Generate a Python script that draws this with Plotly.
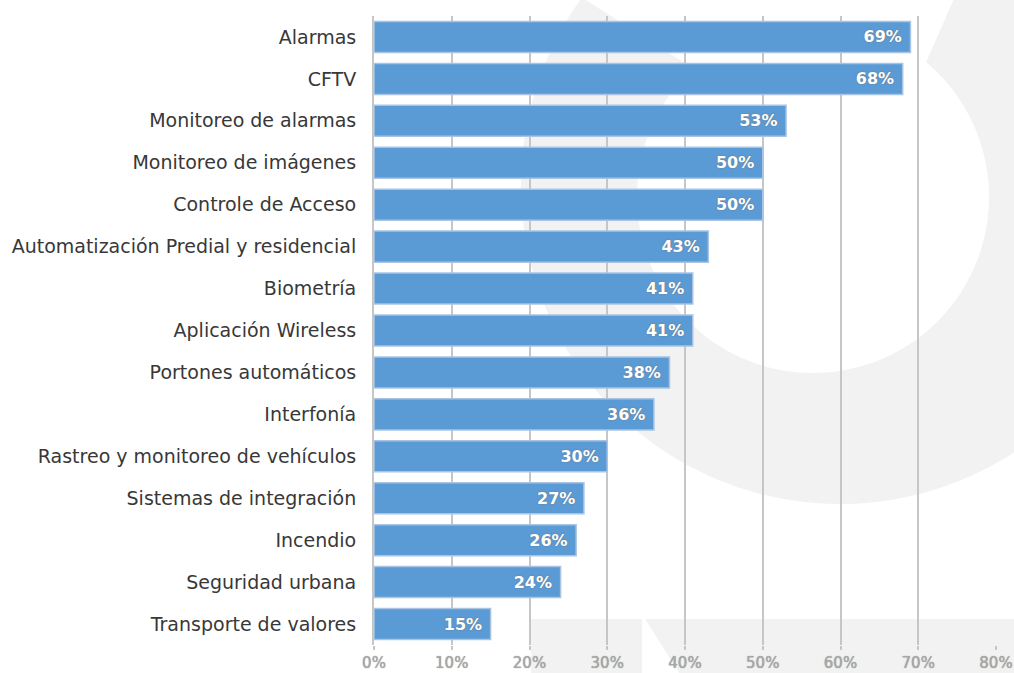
import numpy as np
import plotly.graph_objects as go

categories = [
    "Alarmas", "CFTV", "Monitoreo de alarmas", "Monitoreo de imágenes",
    "Controle de Acceso", "Automatización Predial y residencial", "Biometría",
    "Aplicación Wireless", "Portones automáticos", "Interfonía",
    "Rastreo y monitoreo de vehículos", "Sistemas de integración", "Incendio",
    "Seguridad urbana", "Transporte de valores",
]
values = [69, 68, 53, 50, 50, 43, 41, 41, 38, 36, 30, 27, 26, 24, 15]
tick_vals = [0, 10, 20, 30, 40, 50, 60, 70, 80]
tick_text = ["0%", "10%", "20%", "30%", "40%", "50%", "60%", "70%", "80%"]

W, H = 1014, 673
L, R, T, B = 374, 18, 16, 28
pw, ph = W - L - R, H - T - B


def px2paper(x, y):
    return (x - L) / pw, (H - B - y) / ph


def poly_path(pts):
    s = ""
    for i, (x, y) in enumerate(pts):
        a, b = px2paper(x, y)
        s += ("M" if i == 0 else "L") + f"{a:.4f},{b:.4f} "
    return s + "Z"


# faint background watermark (decoration only)
ocx, ocy, r_out = 840, 185, 319
icx, icy, r_in = 813, 197, 176
th_o = np.radians(np.linspace(-61, 216, 140))
th_i = np.radians(np.linspace(227, -50, 140))
outer = [(ocx + r_out * np.cos(t), ocy + r_out * np.sin(t)) for t in th_o]
inner = [(icx + r_in * np.cos(t), icy + r_in * np.sin(t)) for t in th_i]
ring = poly_path(outer + inner)
band1 = poly_path([(531, 619), (642, 619), (642, 690), (531, 690)])
band2 = poly_path([(645, 619), (1030, 619), (1030, 690), (690, 690)])

wm = "#f2f2f2"
shapes = [
    dict(type="path", path=p, xref="paper", yref="paper", fillcolor=wm,
         line=dict(width=0), layer="below")
    for p in (ring, band1, band2)
]

fig = go.Figure(go.Bar(
    x=values, y=categories, orientation="h",
    marker=dict(color="#5b9bd5", line=dict(color="#a9c4e2", width=1.5)),
    text=[f"{v}%\u00a0" for v in values], textposition="inside",
    insidetextanchor="end",
    textfont=dict(family="DejaVu Sans", size=16, color="white", weight="bold",
                  shadow="0px 0px 1.5px #6a6a6a"),
    cliponaxis=False,
))

fig.update_layout(
    width=W, height=H,
    margin=dict(l=L, r=R, t=T, b=B, pad=0, autoexpand=False),
    paper_bgcolor="white", plot_bgcolor="rgba(0,0,0,0)",
    bargap=0.26, showlegend=False, shapes=shapes,
    font=dict(family="DejaVu Sans"),
)
fig.update_xaxes(
    range=[0, 80], tickvals=tick_vals, ticktext=tick_text,
    showgrid=True, gridcolor="#c6c6c6", gridwidth=2,
    ticks="outside", ticklen=4, tickcolor="#c6c6c6", tickwidth=2,
    tickfont=dict(family="DejaVu Sans", size=15, color="#a8a8a8",
                  shadow="0px 0px 1px #888888"),
    zeroline=False, showline=False, fixedrange=True, automargin=False,
)
fig.update_yaxes(
    autorange="reversed", showgrid=False, ticks="", ticklen=0,
    tickfont=dict(family="DejaVu Sans", size=19, color="#383838"),
    ticklabelstandoff=12, automargin=False,
    showline=True, linecolor="#c6c6c6", linewidth=2,
)

fig.write_html("out.html", config={"displayModeBar": False},
               post_script="document.body.style.margin='0';")
